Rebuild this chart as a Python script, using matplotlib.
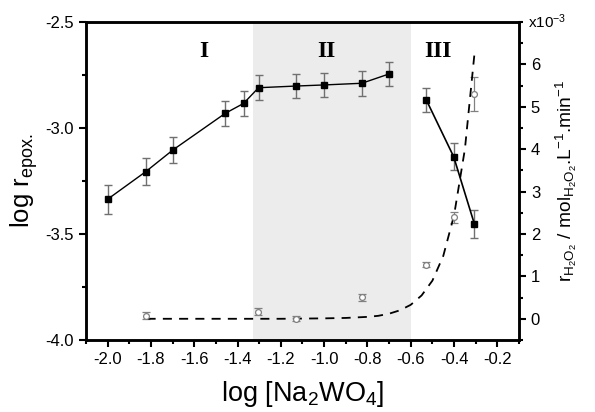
import matplotlib
matplotlib.use("Agg")
import matplotlib.pyplot as plt
from matplotlib.ticker import MultipleLocator, FixedLocator, FuncFormatter

plt.rcParams['font.family'] = ['Liberation Sans', 'DejaVu Sans']
plt.rcParams['mathtext.fontset'] = 'custom'
plt.rcParams['mathtext.rm'] = 'Liberation Sans'
plt.rcParams['mathtext.it'] = 'Liberation Sans:italic'

# Epoxidation rate (left axis)
x_epox_a = [-2.0, -1.824, -1.699, -1.457, -1.372, -1.303, -1.128, -1.002, -0.826, -0.700]
y_epox_a = [-3.336, -3.206, -3.104, -2.931, -2.884, -2.810, -2.802, -2.797, -2.789, -2.745]
x_epox_b = [-0.528, -0.402, -0.306]
y_epox_b = [-2.868, -3.135, -3.453]
err_epox_a = [0.068, 0.064, 0.062, 0.058, 0.058, 0.058, 0.058, 0.058, 0.058, 0.058]
err_epox_b = [0.058, 0.062, 0.065]

# H2O2 decomposition rate (right axis, x10^-3)
x_h2o2 = [-1.824, -1.305, -1.128, -0.826, -0.528, -0.401, -0.306]
y_h2o2 = [0.07, 0.17, 0.0, 0.51, 1.28, 2.39, 5.30]
err_h2o2 = [0.08, 0.08, 0.06, 0.08, 0.05, 0.12, 0.40]

# Dashed fit curve
x_fit = [-1.82, -1.6, -1.4, -1.2, -1.0, -0.9, -0.8, -0.75, -0.7, -0.65, -0.6,
         -0.55, -0.5, -0.45, -0.4, -0.35, -0.304]
y_fit = [0.0, 0.0, 0.0, 0.0, 0.01, 0.02, 0.045, 0.07, 0.12, 0.20, 0.33,
         0.55, 0.90, 1.48, 2.44, 4.0, 6.34]

regions = ['I', 'II', 'III']
region_x = [-1.558, -0.99, -0.475]
shade = (-1.33, -0.6)
right_ticks = [0, 1, 2, 3, 4, 5, 6]

fig = plt.figure(figsize=(5.95, 4.12), dpi=100)
ax = fig.add_axes([0.1445, 0.1748, 0.8723 - 0.1445, 0.9466 - 0.1748])
ax2 = ax.twinx()

ax.axvspan(shade[0], shade[1], color='#ececec', lw=0, zorder=0)

ax.errorbar(x_epox_a, y_epox_a, yerr=err_epox_a, fmt='none', ecolor='#707070',
            elinewidth=1, capsize=3, capthick=1, zorder=2)
ax.errorbar(x_epox_b, y_epox_b, yerr=err_epox_b, fmt='none', ecolor='#707070',
            elinewidth=1, capsize=3, capthick=1, zorder=2)
ax.plot(x_epox_a, y_epox_a, '-', color='black', lw=1, marker='s', ms=4.8,
        mfc='black', mec='black', zorder=3)
ax.plot(x_epox_b, y_epox_b, '-', color='black', lw=1.2, marker='s', ms=4.8,
        mfc='black', mec='black', zorder=3)

ax2.errorbar(x_h2o2, y_h2o2, yerr=err_h2o2, fmt='none', ecolor='#808080',
             elinewidth=0.9, capsize=3, capthick=0.9, zorder=2)
ax2.plot(x_h2o2, y_h2o2, 'o', ms=4.2, mfc='white', mec='#808080', mew=0.9, zorder=3)
ax2.plot(x_fit, y_fit, '--', color='black', lw=1.3, dashes=(5, 4), zorder=2)

ax.set_xlim(-2.1, -0.1)
ax.set_ylim(-4.0, -2.5)
ax2.set_ylim(-0.5, 7.0)

ax.xaxis.set_major_locator(MultipleLocator(0.2))
ax.xaxis.set_minor_locator(MultipleLocator(0.1))
ax.yaxis.set_major_locator(MultipleLocator(0.5))
ax.yaxis.set_minor_locator(MultipleLocator(0.25))
ax2.yaxis.set_major_locator(FixedLocator(right_ticks))
ax2.yaxis.set_minor_locator(MultipleLocator(0.5))
ax.xaxis.set_major_formatter(FuncFormatter(lambda v, p: f"{v:.1f}"))
ax.yaxis.set_major_formatter(FuncFormatter(lambda v, p: f"{v:.1f}"))
ax2.yaxis.set_major_formatter(FuncFormatter(lambda v, p: f"{v:.0f}"))

for a in (ax, ax2):
    for s in a.spines.values():
        s.set_linewidth(1.8)
ax.tick_params(axis='both', which='major', direction='out', length=5, width=1.5, labelsize=12)
ax.tick_params(axis='both', which='minor', direction='out', length=3, width=1.5)
ax2.tick_params(axis='y', which='major', direction='out', length=5, width=1.5, labelsize=12)
ax2.tick_params(axis='y', which='minor', direction='out', length=3, width=1.5)

ax.set_xlabel(r'log [Na$_2$WO$_4$]', fontsize=19.5, labelpad=9)
ax.set_ylabel(r'log r$_{\mathrm{epox.}}$', fontsize=18.5, labelpad=4)
ax2.set_ylabel(r'r$_{\mathrm{H_2O_2}}$ / mol$_{\mathrm{H_2O_2}}$.L$^{-1}$.min$^{-1}$',
               fontsize=13.8, labelpad=10)

ax2.text(1.02, 1.0, r'x10$^{-3}$', transform=ax2.transAxes, fontsize=11,
         ha='left', va='center')

for lab, xv in zip(regions, region_x):
    ax.text(xv, -2.641, lab, fontsize=17, fontweight='bold', family='Liberation Serif',
            ha='center', va='center')

fig.savefig('out.png', dpi=100)
